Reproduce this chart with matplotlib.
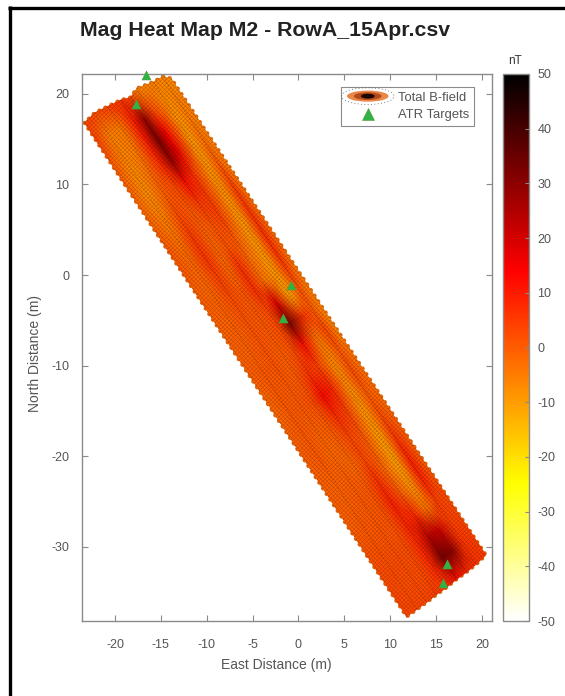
import numpy as np
import matplotlib
matplotlib.use('Agg')
import matplotlib.pyplot as plt
from matplotlib.colors import LinearSegmentedColormap
from matplotlib.legend_handler import HandlerBase
from matplotlib.lines import Line2D
from matplotlib.patches import Ellipse, Polygon

plt.rcParams['font.family'] = ['Liberation Sans', 'DejaVu Sans']
plt.rcParams['hatch.linewidth'] = 0.35
plt.rcParams['axes.unicode_minus'] = False

# survey lanes, first and last point of each one (m)
lane_top_e = [-23.3, -22.2, -20.8, -19.4, -18.3, -17.6, -15.8, -14.8, -13.9]
lane_top_n = [16.8, 17.9, 18.6, 19.3, 19.6, 20.6, 21.3, 21.9, 21.7]
lane_bot_e = [11.8, 12.9, 14.0, 15.0, 16.1, 17.2, 18.3, 19.4, 20.4]
lane_bot_n = [-37.7, -36.9, -36.1, -35.3, -34.5, -33.6, -32.8, -31.9, -30.9]

# along track position of the stations (0 = north end, 1 = south end)
stations = [0.0, 0.043, 0.087, 0.13, 0.174, 0.217, 0.26, 0.304, 0.348, 0.391, 0.435, 0.478,
            0.522, 0.565, 0.609, 0.652, 0.696, 0.739, 0.783, 0.826, 0.87, 0.913, 0.957, 1.0]

# total field (nT), one row per station, one column per lane
field = [
    [4, 2, 4, 6, 2, -7, -6, -7, -8],
    [3, -6, -5, 10, 30, 3, -8, -6, -6],
    [0, -7, -5, 10, 34, 14, -9, -5, -6],
    [-1, -8, -3, 8, 30, 16, -10, -3, -6],
    [-2, -8, -1, 3, 12, 7, -10, 0, -6],
    [-1, -6, 2, 0, 5, 5, -9, 4, -5],
    [0, -4, 5, -1, 1, 4, -10, 6, -4],
    [0, -2, 6, -2, 1, 0, -10, 7, -3],
    [-1, -2, 4, -2, 7, -2, -10, 7, -3],
    [-1, -1, 2, 0, 7, -3, -10, 5, -5],
    [-1, -1, 1, 0, 3, 18, -12, 1, -6],
    [-1, -1, 1, 0, 2, 34, 6, 0, -7],
    [-1, 0, 1, -1, 2, 12, -5, 3, -7],
    [-2, 0, 0, 0, 6, 4, -8, 1, -5],
    [-2, 0, 0, 2, 13, 8, -8, 2, -4],
    [-1, 0, -1, 0, 7, 4, -9, 0, -3],
    [-1, 0, -2, -1, 3, 1, -10, 2, -2],
    [-1, -1, -1, -2, 3, -1, -11, 6, -1],
    [-1, -1, 0, 0, 7, -2, -11, 9, -1],
    [-1, 0, 0, 1, 9, 0, -9, 9, 0],
    [1, 1, 1, 1, 8, 8, -5, 4, 2],
    [2, 2, 2, 2, 8, 24, 20, 4, 3],
    [3, 2, 2, 2, 8, 34, 30, 6, 4],
    [3, 3, 3, 4, 5, 12, 8, 6, 5],
]

target_e = [-16.6, -17.7, -0.8, -1.7, 16.2, 15.8]
target_n = [22.1, 18.9, -1.1, -4.75, -31.9, -34.0]

x_ticks = [-20, -15, -10, -5, 0, 5, 10, 15, 20]
y_ticks = [20, 10, 0, -10, -20, -30]
cbar_ticks = [-50, -40, -30, -20, -10, 0, 10, 20, 30, 40, 50]

# flipped hot colormap, like the MATLAB one
hot_r = LinearSegmentedColormap.from_list(
    'hot_r', [(0.0, '#ffffff'), (0.25, '#ffff00'), (0.64, '#ff0000'), (1.0, '#000000')])

grey = '#8a8a8a'
text_grey = '#555555'
W, H = 565, 696


class HeatBlobHandler(HandlerBase):
    def create_artists(self, legend, orig_handle, xdescent, ydescent, width, height, fontsize, trans):
        cx, cy = width / 2 - xdescent, height / 2 - ydescent
        blobs = []
        for w, h, c in [(30, 8, '#e8894a'), (20, 5.5, '#b5491a'), (10, 3.5, '#1a0500')]:
            blobs.append(Ellipse((cx, cy), w, h, facecolor=c, edgecolor='none', transform=trans))
        blobs.append(Ellipse((cx, cy), 38, 12, facecolor='none', edgecolor='#555555', lw=0.6,
                             ls=(0, (1, 3)), transform=trans))
        return blobs


fig = plt.figure(figsize=(W / 100, H / 100), dpi=100, facecolor='white')
ax = fig.add_axes([82 / W, 1 - 621 / H, (492 - 82) / W, (621 - 74) / H])

# build the survey mesh
frac = np.array(stations)
X = np.outer(1 - frac, lane_top_e) + np.outer(frac, lane_bot_e)
Y = np.outer(1 - frac, lane_top_n) + np.outer(frac, lane_bot_n)
Z = np.array(field, dtype=float)

mesh = ax.pcolormesh(X, Y, Z, cmap=hot_r, vmin=-50, vmax=50, shading='gouraud', zorder=2)

# dark dotted scan lines along each lane
ax.plot(X[:, 1:-1], Y[:, 1:-1], color='#3a1200', lw=1.0, ls=(0, (0.8, 1.6)), alpha=0.28, zorder=3)

# fine scan pattern over the whole swath
outline = np.column_stack([np.r_[X[:, 0], X[-1, :], X[::-1, -1], X[0, ::-1]],
                           np.r_[Y[:, 0], Y[-1, :], Y[::-1, -1], Y[0, ::-1]]])
ax.add_patch(Polygon(outline, closed=True, facecolor='none', edgecolor=(0.25, 0.08, 0, 0.34),
                     hatch='xxxxxxxx', lw=0, zorder=3))

# scalloped swath edges
ax.plot(outline[:, 0], outline[:, 1], color='#d9620f', lw=3.2, ls=(0, (0.01, 1.5)),
        dash_capstyle='round', zorder=1.5)
ax.plot(outline[:, 0], outline[:, 1], color='#6a2a08', lw=0.7, ls=(0, (1, 2.5)), alpha=0.5, zorder=3)

ax.scatter(target_e, target_n, marker='^', s=42, c='#2fb344', edgecolors='#5a9a3a', linewidths=0.4,
           zorder=5, clip_on=False, label='ATR Targets')

ax.set_xlim(-23.6, 21.1)
ax.set_ylim(-38.2, 22.2)
ax.set_xticks(x_ticks)
ax.set_yticks(y_ticks)
ax.tick_params(direction='in', length=4, width=0.8, color=grey, labelcolor=text_grey, labelsize=9,
               top=True, right=True)
ax.tick_params(axis='x', pad=13)
ax.tick_params(axis='y', pad=9)
for spine in ax.spines.values():
    spine.set_color(grey)
    spine.set_linewidth(1.0)
fig.text(276 / W, 1 - 665 / H, 'East Distance (m)', fontsize=10, color=text_grey, ha='center', va='center')
fig.text(35 / W, 1 - 353 / H, 'North Distance (m)', fontsize=10, color=text_grey, rotation=90,
         ha='center', va='center')

blob = Line2D([], [], label='Total B-field')
tri = Line2D([], [], ls='none', marker='^', ms=8, mfc='#2fb344', mec='#5a9a3a', mew=0.4, label='ATR Targets')
leg = ax.legend(handles=[blob, tri], handler_map={blob: HeatBlobHandler()}, loc='upper left',
                bbox_to_anchor=((341 - 82) / (492 - 82), 1 - (87 - 74) / (621 - 74)), borderaxespad=0,
                fontsize=9.4, fancybox=False, framealpha=1, edgecolor=grey, labelspacing=0.4,
                handlelength=3.4, handletextpad=0.6, borderpad=0.35, labelcolor=text_grey)
leg.get_frame().set_linewidth(0.8)

# colorbar
cax = fig.add_axes([503 / W, 1 - 621 / H, 26 / W, (621 - 74) / H])
cb = fig.colorbar(mesh, cax=cax, ticks=cbar_ticks)
cb.ax.tick_params(direction='in', length=3, width=0.8, color=grey, labelcolor=text_grey, labelsize=9, pad=6)
cb.outline.set_edgecolor(grey)
cb.outline.set_linewidth(1.0)
fig.text(515 / W, 1 - 61 / H, 'nT', fontsize=8.5, color='#333333', ha='center', va='center')

fig.text(265 / W, 1 - 31 / H, 'Mag Heat Map M2 - RowA_15Apr.csv', fontsize=15.3, fontweight='bold',
         color='#222222', ha='center', va='center')

# black frame left over from the screenshot
fig.add_artist(Line2D([9.5 / W, 9.5 / W], [0, 1 - 6 / H], color='black', lw=2.4, solid_capstyle='butt'))
fig.add_artist(Line2D([8 / W, 1], [1 - 7.5 / H, 1 - 7.5 / H], color='black', lw=2.4, solid_capstyle='butt'))

fig.savefig('out.png', dpi=100)
